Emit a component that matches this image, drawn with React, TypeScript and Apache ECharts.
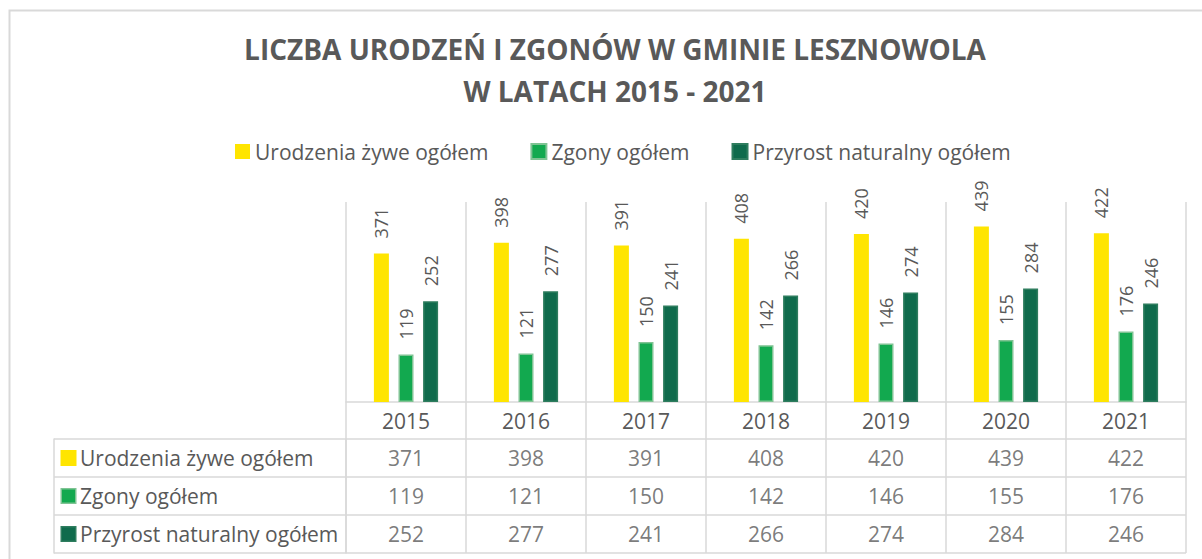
import React, { useEffect, useRef } from "react";
import * as echarts from "echarts";

const years = ["2015", "2016", "2017", "2018", "2019", "2020", "2021"];
const seriesNames = ["Urodzenia żywe ogółem", "Zgony ogółem", "Przyrost naturalny ogółem"];
const births = [371, 398, 391, 408, 420, 439, 422];
const deaths = [119, 121, 150, 142, 146, 155, 176];
const growth = [252, 277, 241, 266, 274, 284, 246];
const colors = ["#FFE500", "#12A94F", "#0F6B4C"];
const borders = ["#FFE500", "#7FC393", "#2E7D5E"];
const titleText = "LICZBA URODZEŃ I ZGONÓW W GMINIE LESZNOWOLA\nW LATACH 2015 - 2021";

const TEXT = "#595959";
const LINE = "#D9D9D9";
const FONT = "'Open Sans', 'Noto Sans', sans-serif";

export default function App() {
  const ref = useRef<HTMLDivElement>(null);
  useEffect(() => {
    if (!ref.current) return;
    const chart = echarts.init(ref.current, undefined, { renderer: "svg" });
    const values = [births, deaths, growth];

    const rich: any = {
      t: { fontSize: 21, color: TEXT, padding: [0, 0, 0, 5], fontFamily: FONT },
    };
    colors.forEach((c, i) => {
      rich["m" + i] = {
        width: 13,
        height: 13,
        backgroundColor: c,
        borderColor: borders[i],
        borderWidth: 1.5,
      };
    });

    const tableData: any[] = [];
    values.forEach((row, r) => {
      row.forEach((v, i) => tableData.push([i, r, v]));
    });

    chart.setOption({
      animation: false,
      textStyle: { fontFamily: FONT },
      title: {
        text: titleText,
        left: 610,
        textAlign: "center",
        top: 23,
        textStyle: {
          fontSize: 28,
          fontWeight: "bold",
          color: TEXT,
          lineHeight: 42,
          fontFamily: FONT,
        },
      },
      legend: {
        data: seriesNames,
        left: 230,
        top: 136,
        icon: "rect",
        itemWidth: 15,
        itemHeight: 15,
        itemGap: 42,
        selectedMode: false,
        textStyle: { fontSize: 21, color: TEXT, fontFamily: FONT },
      },
      graphic: [
        {
          type: "rect",
          shape: { x: 9.5, y: 10.5, width: 1220, height: 600 },
          style: { fill: "none", stroke: LINE, lineWidth: 2 },
          z: -1,
          silent: true,
        },
      ],
      grid: [
        { left: 346, top: 202, width: 840, height: 200 },
        { left: 346, top: 439, width: 840, height: 114 },
      ],
      xAxis: [
        {
          type: "category",
          gridIndex: 0,
          data: years,
          axisLine: { lineStyle: { color: LINE, width: 1.5 } },
          axisTick: { show: true, interval: 0, length: 37, lineStyle: { color: LINE, width: 1.5 } },
          axisLabel: { fontSize: 21, color: TEXT, margin: 8, interval: 0 },
          splitLine: { show: true, interval: 0, lineStyle: { color: LINE, width: 1.5 } },
        },
        {
          type: "category",
          gridIndex: 1,
          data: years,
          axisLine: { show: false },
          axisTick: { show: false },
          axisLabel: { show: false },
          splitLine: { show: true, interval: 0, lineStyle: { color: LINE, width: 1.5 } },
        },
      ],
      yAxis: [
        {
          type: "value",
          gridIndex: 0,
          min: 0,
          max: 500,
          show: false,
          splitLine: { show: false },
        },
        {
          type: "category",
          gridIndex: 1,
          data: seriesNames,
          inverse: true,
          axisLine: { show: true, lineStyle: { color: LINE, width: 1.5 } },
          axisTick: { show: true, interval: 0, length: 292, lineStyle: { color: LINE, width: 1.5 } },
          axisLabel: {
            interval: 0,
            align: "left",
            margin: 284,
            formatter: (value: string, idx: number) => `{m${idx}|}{t|${value}}`,
            rich,
          },
          splitLine: { show: true, interval: 0, lineStyle: { color: LINE, width: 1.5 } },
        },
        {
          type: "category",
          gridIndex: 1,
          data: seriesNames,
          inverse: true,
          position: "left",
          offset: 292,
          axisLine: { show: true, lineStyle: { color: LINE, width: 1.5 } },
          axisTick: { show: false },
          axisLabel: { show: false },
          splitLine: { show: false },
        },
      ],
      series: [
        ...values.map((vals, i) => ({
          name: seriesNames[i],
          type: "bar",
          xAxisIndex: 0,
          yAxisIndex: 0,
          data: vals,
          barWidth: 15,
          barGap: "64%",
          itemStyle: { color: colors[i], borderColor: borders[i], borderWidth: i === 0 ? 0 : 1.5 },
          label: {
            show: true,
            position: "top",
            rotate: 90,
            align: "left",
            verticalAlign: "middle",
            distance: 15,
            fontSize: 18,
            color: TEXT,
          },
          silent: true,
        })),
        {
          type: "scatter",
          xAxisIndex: 1,
          yAxisIndex: 1,
          data: tableData,
          symbolSize: 1,
          itemStyle: { color: "rgba(0,0,0,0)" },
          label: {
            show: true,
            position: "inside",
            formatter: (p: any) => String(p.value[2]),
            fontSize: 21,
            color: TEXT,
          },
          silent: true,
        },
      ],
    });
    return () => chart.dispose();
  }, []);
  return (
    <div
      ref={ref}
      style={{ position: "fixed", left: 0, top: 0, width: 1202, height: 559, background: "#fff" }}
    />
  );
}
